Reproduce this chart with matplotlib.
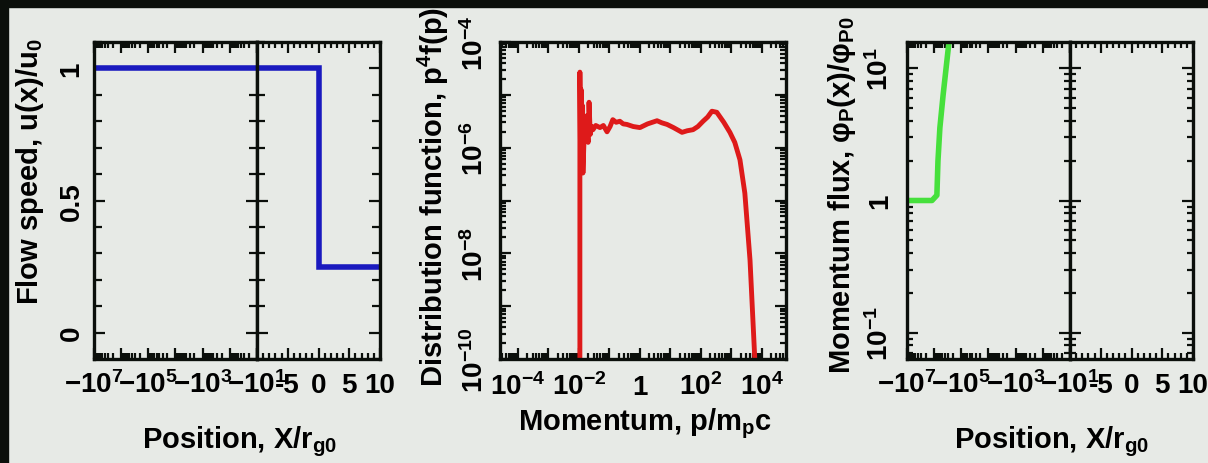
import numpy as np
import matplotlib.pyplot as plt
from matplotlib.patches import Rectangle
from matplotlib.ticker import (FixedLocator, FuncFormatter, LogLocator,
                               MultipleLocator, NullFormatter)

plt.rcParams['font.family'] = ['Liberation Sans', 'DejaVu Sans']
plt.rcParams['font.weight'] = 'bold'
plt.rcParams['mathtext.default'] = 'regular'

W, H = 1208, 464
BG = '#e7eae6'
INK = '#0b0f0b'

# flow speed across the shock (x in units of r_g0)
flow_x = [-1e7, -10, 0, 0, 10]
flow_u = [1.0, 1.0, 1.0, 0.25, 0.25]

# distribution function, log10(p/m_p c) vs log10(p^4 f(p))
mom_logp = [-1.97, -1.97, -1.95, -1.93, -1.91, -1.89, -1.87, -1.82, -1.76, -1.70,
            -1.67, -1.63, -1.58, -1.54, -1.45, -1.31, -1.20, -1.08, -0.98, -0.89,
            -0.78, -0.66, -0.55, -0.43, -0.22, 0.0, 0.25, 0.56, 0.72, 0.89,
            1.10, 1.38, 1.55, 1.74, 1.90, 2.07, 2.22, 2.36, 2.52, 2.75,
            2.95, 3.11, 3.28, 3.44, 3.61, 3.77, 3.80]
mom_logf = [-10.5, -4.57, -6.0, -4.9, -6.3, -5.2, -6.48, -5.6, -5.4, -5.9,
            -5.14, -5.75, -5.6, -5.66, -5.58, -5.62, -5.58, -5.70, -5.60, -5.47,
            -5.52, -5.50, -5.55, -5.56, -5.60, -5.62, -5.55, -5.49, -5.53, -5.56,
            -5.62, -5.71, -5.68, -5.66, -5.60, -5.50, -5.42, -5.31, -5.33, -5.52,
            -5.71, -5.90, -6.23, -6.86, -8.13, -10.04, -10.5]

# momentum flux upstream, log10|x| vs log10(phi_P / phi_P0)
flux_logx = [7.0, 6.08, 5.90, 5.86, 5.79, 5.67, 5.53, 5.45]
flux_logphi = [0.0, 0.0, 0.04, 0.30, 0.55, 0.80, 1.06, 1.21]

fig = plt.figure(figsize=(W / 100, H / 100), dpi=100, facecolor=BG)
fig.patches.append(Rectangle((0, 1 - 8 / H), 1, 8 / H, transform=fig.transFigure,
                             color=INK, zorder=-1))
fig.patches.append(Rectangle((0, 0), 8 / W, 1, transform=fig.transFigure,
                             color=INK, zorder=-1))


def box(x0, x1, y0=43, y1=360):
    ax = fig.add_axes([x0 / W, 1 - y1 / H, (x1 - x0) / W, (y1 - y0) / H])
    ax.set_facecolor(BG)
    for s in ax.spines.values():
        s.set_linewidth(2.4)
        s.set_color(INK)
    ax.tick_params(which='both', direction='in', top=True, right=True,
                   width=1.6, color=INK, labelsize=20)
    ax.tick_params(which='major', length=8)
    ax.tick_params(which='minor', length=4)
    return ax


def log_label(v, even=True, minus=False):
    e = int(round(np.log10(abs(v))))
    if (e % 2 == 0) != even:
        return ''
    if e == 0:
        return '1'
    return ('$-10^{%d}$' if minus else '$10^{%d}$') % e


def fix_xlabels(ax, pad):
    ax.tick_params(axis='x', pad=pad)
    for t in ax.xaxis.get_major_ticks():
        t.label1.set_va('baseline')


def fix_ylabels(ax, pad):
    ax.tick_params(axis='y', pad=pad)
    for t in ax.yaxis.get_major_ticks():
        t.label1.set(rotation=90, rotation_mode='anchor', ha='center', va='baseline')


def position_axes(x0, xmid, x1):
    axl = box(x0, xmid)
    axr = box(xmid, x1)
    axl.set_xscale('log')
    axl.set_xlim(1e7, 1e1)
    axl.xaxis.set_major_locator(FixedLocator(10.0 ** np.arange(1, 8)))
    axl.xaxis.set_minor_locator(LogLocator(base=10, subs=np.arange(2, 10), numticks=30))
    axl.xaxis.set_major_formatter(FuncFormatter(lambda v, p: log_label(v, even=False, minus=True)))
    axl.xaxis.set_minor_formatter(NullFormatter())
    axr.set_xlim(-10, 10)
    axr.xaxis.set_major_locator(MultipleLocator(5))
    axr.xaxis.set_minor_locator(MultipleLocator(1))
    axr.xaxis.set_major_formatter(FuncFormatter(lambda v, p: '' if v <= -10 else '%g' % v))
    axr.tick_params(axis='y', labelleft=False)
    fix_xlabels(axl, 24)
    fix_xlabels(axr, 24)
    return axl, axr


# --- flow speed ---
ax1l, ax1r = position_axes(94, 257, 380)
fx = np.array(flow_x)
neg = fx < 0
for ax in (ax1l, ax1r):
    ax.set_ylim(-0.1, 1.1)
    ax.yaxis.set_major_locator(MultipleLocator(0.5))
    ax.yaxis.set_minor_locator(MultipleLocator(0.1))
    ax.yaxis.set_major_formatter(FuncFormatter(lambda v, p: '%g' % v))
    ax.tick_params(axis='y', which='minor', length=6)
ax1l.plot(-fx[neg], np.array(flow_u)[neg], color='#1a1abf', lw=4,
          solid_joinstyle='miter')
ax1r.plot(fx, flow_u, color='#1a1abf', lw=4, solid_joinstyle='miter')
fix_ylabels(ax1l, 11)

# --- distribution function ---
ax2 = box(500, 786)
ax2.set_xscale('log')
ax2.set_yscale('log')
ax2.set_xlim(10 ** -4.59, 10 ** 4.79)
ax2.set_ylim(1e-10, 1e-4)
ax2.plot(10.0 ** np.array(mom_logp), 10.0 ** np.array(mom_logf), color='#de1a1a', lw=3.5)
for axis in (ax2.xaxis, ax2.yaxis):
    axis.set_major_locator(LogLocator(base=10, subs=(1.0,), numticks=30))
    axis.set_minor_locator(LogLocator(base=10, subs=np.arange(2, 10), numticks=30))
    axis.set_major_formatter(FuncFormatter(lambda v, p: log_label(v)))
    axis.set_minor_formatter(NullFormatter())
fix_xlabels(ax2, 25)
fix_ylabels(ax2, 12)

# --- momentum flux ---
ax3l, ax3r = position_axes(907, 1070, 1193)
for ax in (ax3l, ax3r):
    ax.set_yscale('log')
    ax.set_ylim(10 ** -1.2, 10 ** 1.2)
    ax.yaxis.set_major_locator(FixedLocator([0.1, 1.0, 10.0]))
    ax.yaxis.set_minor_locator(LogLocator(base=10, subs=np.arange(2, 10), numticks=30))
    ax.yaxis.set_major_formatter(FuncFormatter(lambda v, p: log_label(v, even=False) if v != 1 else '1'))
    ax.yaxis.set_minor_formatter(NullFormatter())
ax3l.plot(10.0 ** np.array(flux_logx), 10.0 ** np.array(flux_logphi),
          color='#46e03c', lw=4)
fix_ylabels(ax3l, 14)

# axis titles
ylab = dict(rotation=90, ha='center', va='center', fontsize=21)
fig.text(30 / W, 1 - 172 / H, 'Flow speed, u(x)/u$_0$', **ylab)
fig.text(433 / W, 1 - 197 / H, 'Distribution function, p$^4$f(p)', **ylab)
fig.text(842 / W, 1 - 195 / H, 'Momentum flux, φ$_P$(x)/φ$_{P0}$', **ylab)
xlab = dict(ha='center', va='baseline', fontsize=21)
fig.text(240 / W, 1 - 448 / H, 'Position, X/r$_{g0}$', **xlab)
fig.text(645 / W, 1 - 430 / H, 'Momentum, p/m$_p$c', **xlab)
fig.text(1052 / W, 1 - 448 / H, 'Position, X/r$_{g0}$', **xlab)

fig.savefig('out.png', dpi=100, facecolor=BG)
